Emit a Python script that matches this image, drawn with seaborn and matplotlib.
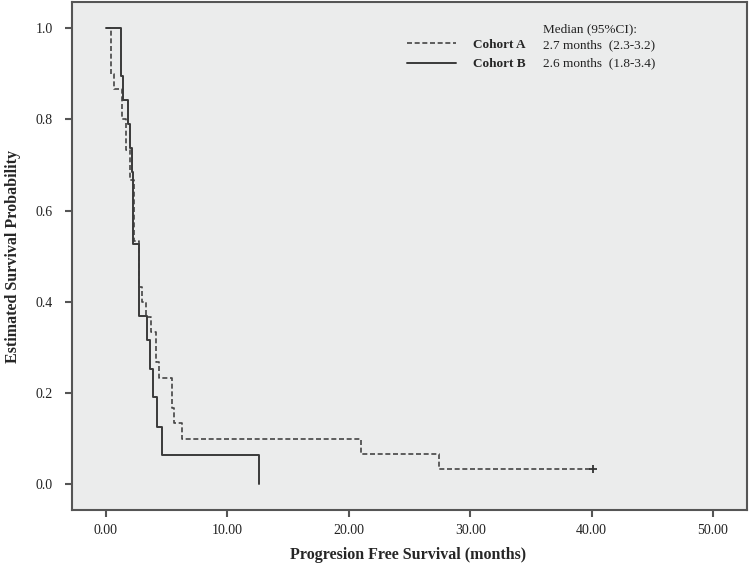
import matplotlib
matplotlib.use("Agg")
import matplotlib.pyplot as plt
import seaborn as sns
from matplotlib.ticker import FormatStrFormatter

# Kaplan-Meier step data (time in months, survival)
cohort_a_time = [0, 0.4, 0.7, 1.3, 1.65, 2.0, 2.3, 2.74, 3.0, 3.27, 3.7, 4.1, 4.4, 5.4, 5.6, 6.3, 21.0, 27.4, 40.1]
cohort_a_surv = [1.0, 0.9, 0.867, 0.8, 0.733, 0.667, 0.533, 0.433, 0.4, 0.367, 0.333, 0.267, 0.233, 0.167, 0.133, 0.1, 0.067, 0.033, 0.033]
cohort_a_censor_time = [40.1]
cohort_a_censor_surv = [0.033]

cohort_b_time = [0, 1.2, 1.4, 1.8, 2.0, 2.15, 2.2, 2.7, 3.4, 3.6, 3.9, 4.2, 4.6, 12.6]
cohort_b_surv = [1.0, 0.895, 0.842, 0.789, 0.737, 0.684, 0.526, 0.368, 0.316, 0.253, 0.19, 0.126, 0.063, 0.0]

cohorts = ["Cohort A", "Cohort B"]
medians = ["2.7 months  (2.3-3.2)", "2.6 months  (1.8-3.4)"]
x_ticks = [0, 10, 20, 30, 40, 50]
y_ticks = [0.0, 0.2, 0.4, 0.6, 0.8, 1.0]

sns.set_style("white")
plt.rcParams["font.family"] = ["Liberation Serif", "DejaVu Serif"]

fig = plt.figure(figsize=(7.5, 5.63), dpi=100)
ax = fig.add_axes([0.096, 0.094, 0.9, 0.902])
ax.set_facecolor("#ebecec")

sns.lineplot(x=cohort_a_time, y=cohort_a_surv, ax=ax, drawstyle="steps-post",
             estimator=None, sort=False, color="#454545", linewidth=1.2,
             linestyle=(0, (3, 1.6)), label=cohorts[0])
sns.lineplot(x=cohort_b_time, y=cohort_b_surv, ax=ax, drawstyle="steps-post",
             estimator=None, sort=False, color="#3a3a3a", linewidth=1.4,
             label=cohorts[1])
ax.plot(cohort_a_censor_time, cohort_a_censor_surv, marker="+", color="#333333",
        markersize=6, markeredgewidth=1.3, linestyle="none")

ax.set_xlim(-2.8, 52.8)
ax.set_ylim(-0.057, 1.057)
ax.set_xticks(x_ticks)
ax.set_yticks(y_ticks)
ax.xaxis.set_major_formatter(FormatStrFormatter("%.2f"))
ax.yaxis.set_major_formatter(FormatStrFormatter("%.1f"))
ax.tick_params(axis="both", direction="out", length=5, width=1.5, color="#555555",
               labelsize=10, labelcolor="#222222", bottom=True, left=True)
ax.tick_params(axis="x", pad=5)
ax.tick_params(axis="y", pad=9)
for sp in ax.spines.values():
    sp.set_color("#555555")
    sp.set_linewidth(1.5)

ax.set_xlabel("Progresion Free Survival (months)", fontsize=11.5, fontweight="bold")
ax.set_ylabel("Estimated Survival Probability", fontsize=11.5, fontweight="bold")
ax.xaxis.set_label_coords(0.498, -0.072)
ax.yaxis.set_label_coords(-0.076, 0.5)

# legend block in the upper right
handles, labels = ax.get_legend_handles_labels()
ax.legend(handles, labels, loc="upper left", bbox_to_anchor=(0.496, 0.929), frameon=False,
          borderpad=0, borderaxespad=0, handlelength=3.7, handletextpad=1.3, labelspacing=0.58,
          prop={"family": "Liberation Serif", "weight": "bold", "size": 9.5})
ax.text(0.698, 0.947, "Median (95%CI):", transform=ax.transAxes, fontsize=9.5,
        va="center", ha="left", color="#222222")
for i, m in enumerate(medians):
    ax.text(0.698, 0.915 - i * 0.035, m, transform=ax.transAxes, fontsize=9.5,
            va="center", ha="left", color="#222222")

fig.savefig("out.png", dpi=100, facecolor="white")
